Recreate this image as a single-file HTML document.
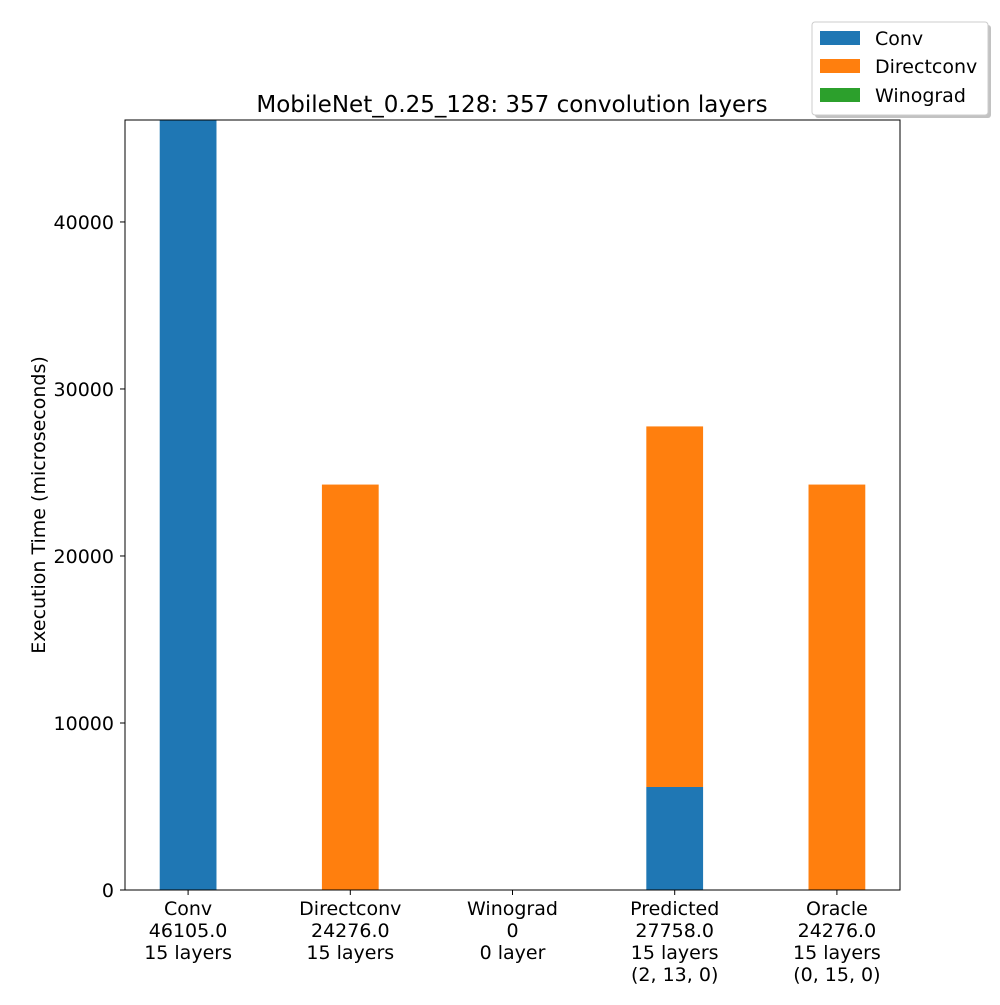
<!DOCTYPE html>
<html><head><meta charset="utf-8"><style>
body{margin:0;background:#fff;}
svg{font-family:"DejaVu Sans","Liberation Sans",sans-serif;}
</style></head><body>
<svg id="chart" width="1000" height="1000" viewBox="0 0 1000 1000">
<rect width="1000" height="1000" fill="#fff"/>
<g id="bars"></g>
<rect x="125" y="120" width="775" height="770" fill="none" stroke="#000" stroke-width="1"/>
<g id="yticks"></g>
<g id="xticks"></g>
<text x="512" y="112" font-size="23" text-anchor="middle">MobileNet_0.25_128: 357 convolution layers</text>
<text transform="translate(45,505) rotate(-90)" font-size="19" text-anchor="middle">Execution Time (microseconds)</text>
<g>
<rect x="815" y="25" width="176" height="93" rx="3" fill="#999" opacity="0.6"/>
<rect x="812" y="22" width="176" height="93" rx="3" fill="#fff" stroke="#ccc"/>
<rect x="820" y="31" width="40" height="14" fill="#1f77b4"/>
<text x="875" y="45" font-size="19">Conv</text>
<rect x="820" y="59" width="40" height="14" fill="#ff7f0e"/>
<text x="875" y="73" font-size="19">Directconv</text>
<rect x="820" y="88" width="40" height="14" fill="#2ca02c"/>
<text x="875" y="102" font-size="19">Winograd</text>
</g>
</svg>
<script>
const categories = [["Conv","46105.0","15 layers"],["Directconv","24276.0","15 layers"],["Winograd","0","0 layer"],["Predicted","27758.0","15 layers","(2, 13, 0)"],["Oracle","24276.0","15 layers","(0, 15, 0)"]];
const convValues = [46105, 0, 0, 6168, 0];
const directValues = [0, 24276, 0, 21590, 24276];
const winoValues = [0, 0, 0, 0, 0];
const yTicks = [0, 10000, 20000, 30000, 40000];
const yMax = 46105;
const NS = "http://www.w3.org/2000/svg";
const L = 125, R = 900, T = 120, B = 890;
const xmin = -0.389, xmax = 4.389, bw = 0.35;
function xs(v){return L + (v - xmin) / (xmax - xmin) * (R - L);}
function ys(v){return B - v / yMax * (B - T);}
function mk(tag, attrs, parent){const e=document.createElementNS(NS,tag);for(const k in attrs)e.setAttribute(k,attrs[k]);parent.appendChild(e);return e;}
const bars = document.getElementById('bars');
const series = [[convValues,"#1f77b4","conv"],[directValues,"#ff7f0e","directconv"],[winoValues,"#2ca02c","winograd"]];
categories.forEach((c,i)=>{
  let base = 0;
  series.forEach(s=>{
    const v = s[0][i];
    if (v > 0) {
      const r = mk('rect',{x:xs(i-bw/2),y:ys(base+v),width:xs(i+bw/2)-xs(i-bw/2),height:ys(base)-ys(base+v),fill:s[1]},bars);
      
      
    }
    base += v;
  });
});
const yg = document.getElementById('yticks');
yTicks.forEach(t=>{
  const y = ys(t);
  mk('line',{x1:L-5,x2:L,y1:y,y2:y,stroke:'#000'},yg);
  const tx = mk('text',{x:L-11,y:y+7,'font-size':19,'text-anchor':'end'},yg);
  tx.textContent = t;
  
  
});
const xg = document.getElementById('xticks');
categories.forEach((c,i)=>{
  const x = xs(i);
  mk('line',{x1:x,x2:x,y1:B,y2:B+5,stroke:'#000'},xg);
  c.forEach((line,j)=>{
    const tx = mk('text',{x:x,y:B+25+j*22,'font-size':19,'text-anchor':'middle'},xg);
    tx.textContent = line;
    
    
  });
});
</script>
</body></html>
